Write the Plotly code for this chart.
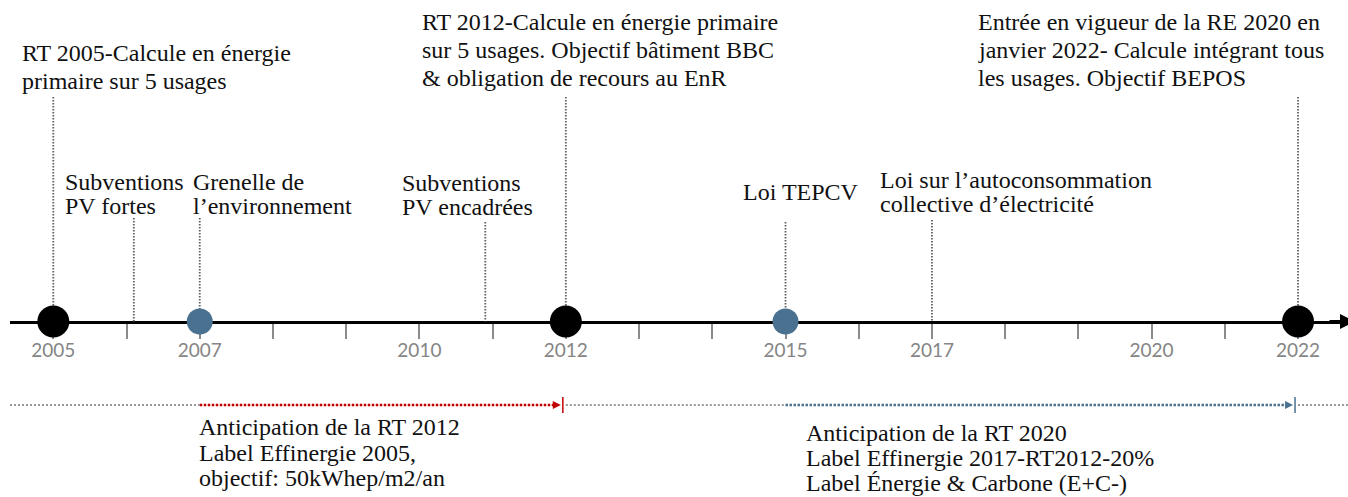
import plotly.graph_objects as go

# ---------------- data ----------------
all_years = list(range(2005, 2023))
labeled_years = [2005, 2007, 2010, 2012, 2015, 2017, 2020, 2022]

regulation_years = [2005, 2012, 2022]      # black milestones
policy_years = [2007, 2015]                # blue milestones

event_years = [2005, 2006.1, 2007, 2010.9, 2012, 2015, 2017, 2022]
event_texts = [
    "RT 2005-Calcule en énergie\nprimaire sur 5 usages",
    "Subventions\nPV fortes",
    "Grenelle de\nl’environnement",
    "Subventions\nPV encadrées",
    "RT 2012-Calcule en énergie primaire\nsur 5 usages. Objectif bâtiment BBC\n& obligation de recours au EnR",
    "Loi TEPCV",
    "Loi sur l’autoconsommation\ncollective d’électricité",
    "Entrée en vigueur de la RE 2020 en\njanvier 2022- Calcule intégrant tous\nles usages. Objectif BEPOS",
]

period_starts = [2007, 2015]
period_ends = [2012, 2022]
period_texts = [
    "Anticipation de la RT 2012\nLabel Effinergie 2005,\nobjectif: 50kWhep/m2/an",
    "Anticipation de la RT 2020\nLabel Effinergie 2017-RT2012-20%\nLabel Énergie & Carbone (E+C-)",
]

# ---------------- layout / styling (positions in pixels) ----------------
W, H = 1348, 497
PX_PER_YEAR = 73.22
REF_PX_2005 = 53.3
PLOT_LEFT = 10
x_min = 2005 - (REF_PX_2005 - PLOT_LEFT) / PX_PER_YEAR
x_max = 2005 + (W - REF_PX_2005) / PX_PER_YEAR
AXIS_Y = 321.5
PERIOD_Y = 405

# (text xshift from event, first line centre y, line spacing, top of dotted connector)
event_layout = [
    (-31, 53, 28, 97),
    (-69, 182, 24, 218),
    (-7, 182, 24, 218),
    (-83, 183, 24, 222),
    (-144, 22, 28, 97),
    (-43, 192, 24, 222),
    (-52, 180, 24, 220),
    (-320, 22, 28, 97),
]
period_layout = [(-1, 427, 25.5), (20, 433, 25)]

BLACK = "#000000"
BLUE = "#4a7190"
RED = "#c00000"
GREY_DOT = "#9a9a9a"
CONNECTOR = "#5f5f5f"
TEXT_FONT = dict(family="Liberation Serif", size=24, color="#111111")

fig = go.Figure()

# dotted connectors from text to the time axis
for yr, lay in zip(event_years, event_layout):
    fig.add_trace(go.Scatter(
        x=[yr, yr], y=[lay[3], AXIS_Y], mode="lines",
        line=dict(color=CONNECTOR, width=1.8, dash="1.5px,1.5px"),
        hoverinfo="skip", showlegend=False))

# period band (dotted grey, with coloured anticipation periods)
grey_segments = [(x_min, period_starts[0]), (period_ends[0], period_starts[1]), (period_ends[1], x_max)]
for a, b in grey_segments:
    fig.add_trace(go.Scatter(
        x=[a, b], y=[PERIOD_Y, PERIOD_Y], mode="lines",
        line=dict(color=GREY_DOT, width=2.2, dash="2px,2px"),
        hoverinfo="skip", showlegend=False))

period_colors = [RED, BLUE]
for s, e, c in zip(period_starts, period_ends, period_colors):
    tip = e - 5 / PX_PER_YEAR
    fig.add_trace(go.Scatter(
        x=[s, tip - 6 / PX_PER_YEAR], y=[PERIOD_Y, PERIOD_Y], mode="lines",
        line=dict(color=c, width=2.4, dash="2.5px,1.5px"),
        hoverinfo="skip", showlegend=False))
    fig.add_annotation(x=tip, y=PERIOD_Y, ax=tip - 8 / PX_PER_YEAR, ay=PERIOD_Y,
                       xref="x", yref="y", axref="x", ayref="y", text="",
                       showarrow=True, arrowhead=2, arrowsize=0.8, arrowwidth=2,
                       arrowcolor=c, standoff=0, startstandoff=0)
    fig.add_trace(go.Scatter(
        x=[e - 3 / PX_PER_YEAR, e - 3 / PX_PER_YEAR], y=[PERIOD_Y - 8, PERIOD_Y + 8], mode="lines",
        line=dict(color=c, width=1.5), hoverinfo="skip", showlegend=False))

# milestones
fig.add_trace(go.Scatter(
    x=regulation_years, y=[AXIS_Y] * len(regulation_years), mode="markers",
    marker=dict(color=BLACK, size=32, line=dict(width=0)),
    hoverinfo="x", showlegend=False))
fig.add_trace(go.Scatter(
    x=policy_years, y=[AXIS_Y] * len(policy_years), mode="markers",
    marker=dict(color=BLUE, size=26, line=dict(width=0)),
    hoverinfo="x", showlegend=False))

# axis arrow head
fig.add_annotation(x=x_max + 7 / PX_PER_YEAR, y=AXIS_Y, ax=x_max - 20 / PX_PER_YEAR, ay=AXIS_Y,
                   xref="x", yref="y", axref="x", ayref="y", text="",
                   showarrow=True, arrowhead=2, arrowsize=1, arrowwidth=3,
                   arrowcolor=BLACK, standoff=0, startstandoff=0)

# event texts
for yr, txt, lay in zip(event_years, event_texts, event_layout):
    for i, line in enumerate(txt.split("\n")):
        fig.add_annotation(x=yr, y=lay[1] + i * lay[2], xref="x", yref="y",
                           text=line, showarrow=False, xanchor="left", yanchor="middle",
                           xshift=lay[0], font=TEXT_FONT, borderpad=0, borderwidth=0)

# period texts
for s, txt, lay in zip(period_starts, period_texts, period_layout):
    for i, line in enumerate(txt.split("\n")):
        fig.add_annotation(x=s, y=lay[1] + i * lay[2], xref="x", yref="y",
                           text=line, showarrow=False, xanchor="left", yanchor="middle",
                           xshift=lay[0], font=TEXT_FONT, borderpad=0, borderwidth=0)

ticktext = [str(y) if y in labeled_years else "" for y in all_years]

fig.update_layout(
    width=W, height=H,
    margin=dict(l=PLOT_LEFT, r=0, t=0, b=0),
    paper_bgcolor="white", plot_bgcolor="white",
    xaxis=dict(range=[x_min, x_max], anchor="free", position=(H - AXIS_Y) / H,
               showline=True, linewidth=3.2, linecolor=BLACK,
               ticks="outside", ticklen=15, tickwidth=1.5, tickcolor="#8a8a8a",
               tickvals=all_years, ticktext=ticktext, ticklabelstandoff=-4,
               tickfont=dict(family="Lato", size=19, color="#858585"),
               showgrid=False, zeroline=False, layer="below traces", fixedrange=True),
    yaxis=dict(range=[H, 0], visible=False, showgrid=False, zeroline=False, fixedrange=True),
    showlegend=False,
)

fig.write_html("out.html", config={"displayModeBar": False},
               post_script="document.body.style.margin='0';document.body.style.overflow='hidden';")
